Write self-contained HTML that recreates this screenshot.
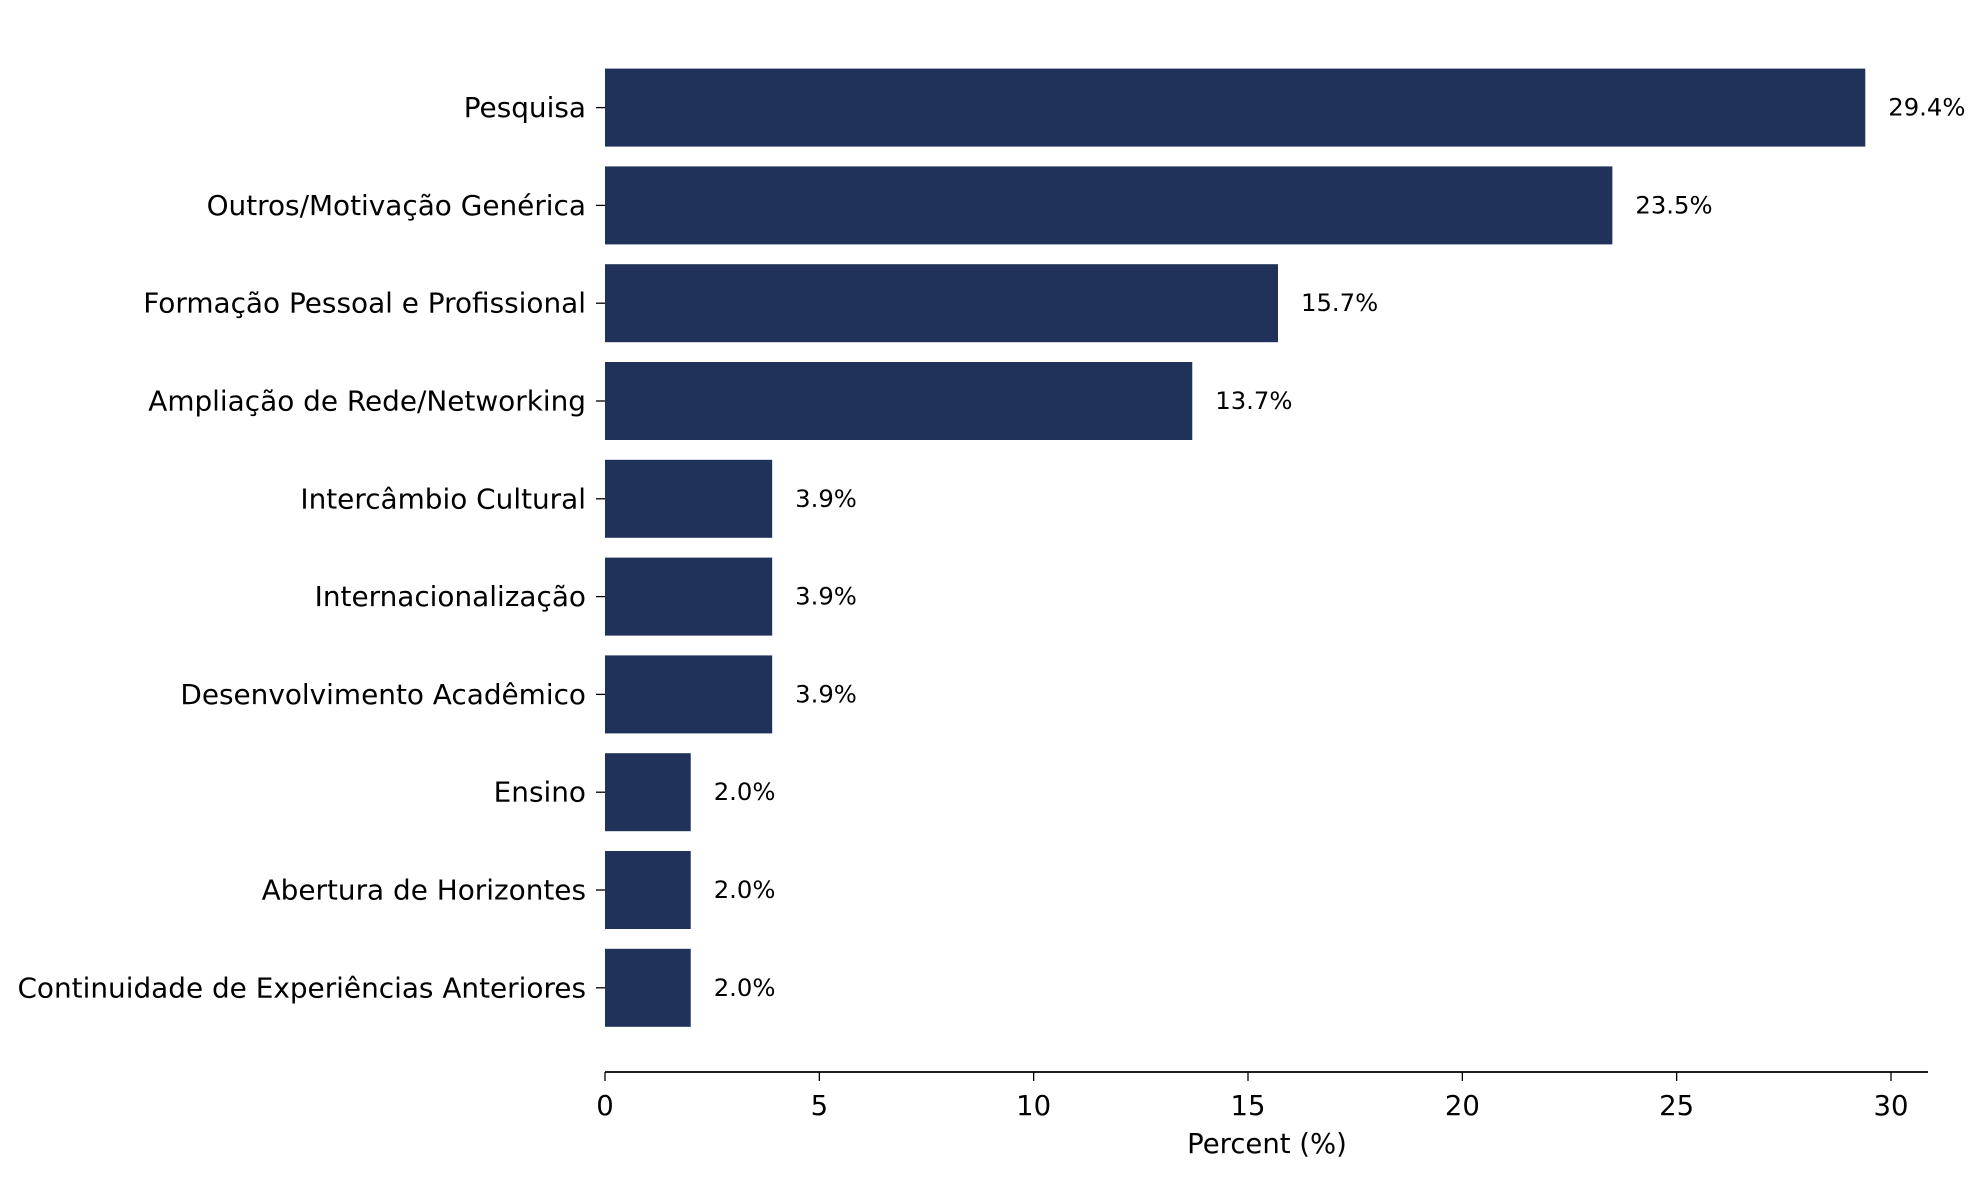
<!DOCTYPE html>
<html><head><meta charset="utf-8"><style>
html,body{margin:0;padding:0;background:#fff;}
svg{display:block;font-family:"DejaVu Sans","Liberation Sans",sans-serif;}
</style></head><body>
<svg id="chart" width="1987" height="1180" viewBox="0 0 1987 1180" xmlns="http://www.w3.org/2000/svg"></svg>
<script>
const categories = ["Pesquisa","Outros/Motivação Genérica","Formação Pessoal e Profissional","Ampliação de Rede/Networking","Intercâmbio Cultural","Internacionalização","Desenvolvimento Acadêmico","Ensino","Abertura de Horizontes","Continuidade de Experiências Anteriores"];
const values = [29.4,23.5,15.7,13.7,3.9,3.9,3.9,2.0,2.0,2.0];
const valueLabels = ["29.4%","23.5%","15.7%","13.7%","3.9%","3.9%","3.9%","2.0%","2.0%","2.0%"];
const xTicks = [0,5,10,15,20,25,30];

const NS="http://www.w3.org/2000/svg";
const svg=document.getElementById('chart');
const X0=605, X30=1891, axisY=1072, axisRight=1928;
const yFirst=107.6, step=97.8, barH=78;
function xScale(v){return X0+(X30-X0)*v/30;}
function yScale(i){return yFirst+i*step;}
function mk(tag,attrs,text){const e=document.createElementNS(NS,tag);for(const k in attrs)e.setAttribute(k,attrs[k]);if(text!==undefined)e.textContent=text;svg.appendChild(e);return e;}

categories.forEach((c,i)=>{
  const cy=yScale(i);
  const r=mk('rect',{x:xScale(0),y:cy-barH/2,width:xScale(values[i])-xScale(0),height:barH,fill:'#203259'});
  
  
  const t=mk('line',{x1:xScale(0)-9,x2:xScale(0),y1:cy,y2:cy,stroke:'#000','stroke-width':1.3});
  
  
  const l=mk('text',{x:586,y:cy+9.5,'text-anchor':'end','font-size':27.9,fill:'#000'},c);
  
  
  const v=mk('text',{x:xScale(values[i])+23,y:cy+8,'font-size':24.3,fill:'#000'},valueLabels[i]);
  
  
});

const ax=mk('line',{x1:xScale(0),x2:axisRight,y1:axisY,y2:axisY,stroke:'#000','stroke-width':1.8});


xTicks.forEach(t=>{
  const x=xScale(t);
  const tl=mk('line',{x1:x,x2:x,y1:axisY,y2:axisY+9,stroke:'#000','stroke-width':1.3});
  
  
  const tx=mk('text',{x:x,y:1115,'text-anchor':'middle','font-size':27.5,fill:'#000'},String(t));
  
  
});
const xl=mk('text',{x:1267,y:1153,'text-anchor':'middle','font-size':27.5,fill:'#000'},'Percent (%)');


</script>
</body></html>
